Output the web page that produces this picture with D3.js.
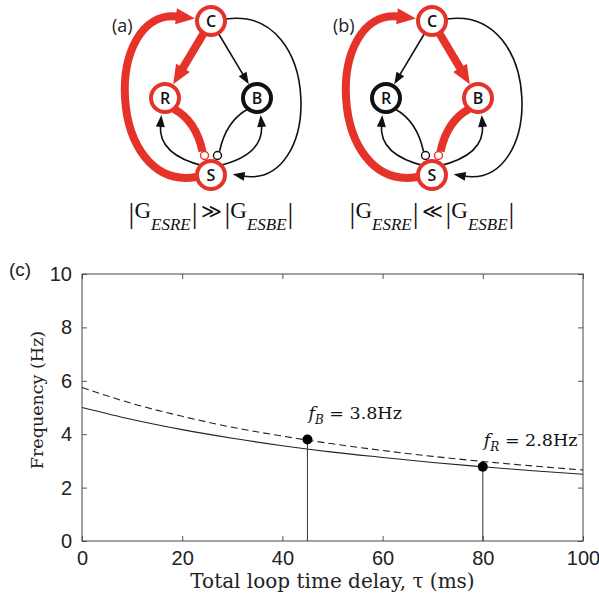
<!DOCTYPE html>
<html>
  <head>
    <title>Loop delay vs frequency</title>
    <meta charset="utf-8" />
    <style>
      body {
        margin: 0;
        background: #fff;
      }
      svg {
        display: block;
      }
      .axis .domain {
        stroke: none;
      }
      .axis .tick line {
        stroke: #555;
      }
      .axis text {
        font-family: "Liberation Sans", Arial, sans-serif;
        font-size: 20px;
        fill: #222;
      }
    </style>
    <script src="https://d3js.org/d3.v7.min.js"></script>
  </head>
  <body>
    <div id="figure"></div>

    <script type="text/javascript">
      // chart data
      var tau = [0, 10, 20, 30, 40, 50, 60, 70, 80, 90, 100];
      var freqSolid = [5.0, 4.55, 4.17, 3.85, 3.57, 3.33, 3.13, 2.94, 2.78, 2.63, 2.5];
      var freqDashed = [5.75, 5.15, 4.67, 4.26, 3.93, 3.64, 3.39, 3.17, 2.98, 2.81, 2.66];
      var peakTau = [45, 80];
      var peakFreq = [3.8, 2.78];
      var peakSub = ["B", "R"];
      var peakText = [" = 3.8Hz", " = 2.8Hz"];
      var xTicks = [0, 20, 40, 60, 80, 100];
      var yTicks = [0, 2, 4, 6, 8, 10];

      // diagram data
      var panelNames = ["(a)", "(b)"];
      var nodeNames = ["C", "R", "B", "S"];
      var redNodes = [["C", "R", "S"], ["C", "B", "S"]];
      var edgeNames = ["SC", "CS", "CR", "CB", "SR", "SB", "RS", "BS"];
      var redEdges = [["SC", "CR", "RS"], ["SC", "CB", "BS"]];
      var inhibitory = ["RS", "BS"];
      var relation = ["\u226B", "\u226A"];

      var RED = "#e5332a";
      var w = 599;
      var h = 602;

      var svg = d3
        .select("#figure")
        .append("svg")
        .attr("width", w)
        .attr("height", h);

      // arrow heads
      var defs = svg.append("defs");
      function marker(id, color, len, half) {
        defs
          .append("marker")
          .attr("id", id)
          .attr("markerUnits", "userSpaceOnUse")
          .attr("viewBox", "-4 -12 28 24")
          .attr("markerWidth", 28)
          .attr("markerHeight", 24)
          .attr("refX", 0)
          .attr("refY", 0)
          .attr("orient", "auto")
          .append("path")
          .attr("d", "M-2," + -half + "L" + len + ",0L-2," + half + "Z")
          .attr("fill", color);
      }
      marker("arrowRed", RED, 17, 8);
      marker("arrowBlack", "#111", 10, 4.5);

      //------------------------------------------------------------
      // Panels (a) and (b): loop diagrams
      //------------------------------------------------------------
      var nodePos = {
        C: [0, 21],
        R: [-46, 98],
        B: [46, 98],
        S: [0, 175]
      };
      var nodeR = 14;

      // straight edge from C, shortened so the arrow tip meets the node
      function straight(to, arrowLen) {
        var a = nodePos.C,
          b = nodePos[to];
        var dx = b[0] - a[0],
          dy = b[1] - a[1],
          L = Math.hypot(dx, dy);
        var ux = dx / L,
          uy = dy / L;
        var back = nodeR + 2 + arrowLen;
        return "M" + a[0] + "," + a[1] + "L" + (b[0] - ux * back) + "," + (b[1] - uy * back);
      }

      function edgePath(id, red) {
        var len = red ? 17 : 10;
        switch (id) {
          case "SC":
            return "M-15,177 C-104,192 -109,8 -33,16.5";
          case "CS":
            return "M15,19 C112,5 112,190 31.5,176";
          case "CR":
            return straight("R", len);
          case "CB":
            return straight("B", len);
          case "SR":
            return "M-7,166 Q-53,155 -50.5,125";
          case "SB":
            return "M7,166 Q53,155 50.5,125";
          case "RS":
            return "M-37,109 Q-15,121 -8.5,151.5";
          case "BS":
            return "M37,109 Q15,121 8.5,151.5";
        }
      }

      var panelX = [211, 432];

      panelNames.forEach(function (name, p) {
        var g = svg.append("g").attr("transform", "translate(" + panelX[p] + ",0)");

        edgeNames.forEach(function (id) {
          var red = redEdges[p].indexOf(id) >= 0;
          var inh = inhibitory.indexOf(id) >= 0;
          var path = g
            .append("path")
            .attr("d", edgePath(id, red))
            .attr("fill", "none")
            .attr("stroke", red ? RED : "#111")
            .attr("stroke-width", red ? 8 : 1.6);
          if (!inh) {
            path.attr("marker-end", red ? "url(#arrowRed)" : "url(#arrowBlack)");
          } else {
            g.append("circle")
              .attr("cx", id == "RS" ? -6.5 : 6.5)
              .attr("cy", 155.5)
              .attr("r", 4)
              .attr("fill", "#fff")
              .attr("stroke", red ? RED : "#111")
              .attr("stroke-width", 1.4);
          }
        });

        nodeNames.forEach(function (n) {
          var isRed = redNodes[p].indexOf(n) >= 0;
          g.append("circle")
            .attr("cx", nodePos[n][0])
            .attr("cy", nodePos[n][1])
            .attr("r", nodeR)
            .attr("fill", "#fff")
            .attr("stroke", isRed ? RED : "#111")
            .attr("stroke-width", 4);
          g.append("text")
            .attr("x", nodePos[n][0])
            .attr("y", nodePos[n][1])
            .attr("dy", "0.36em")
            .attr("text-anchor", "middle")
            .attr("font-family", "'Open Sans', sans-serif")
            .attr("font-weight", 600)
            .attr("font-size", 16)
            .attr("fill", "#111")
            .text(n);
        });

        g.append("text")
          .attr("x", -99)
          .attr("y", 32)
          .attr("font-family", "'Open Sans', sans-serif")
          .attr("font-size", 18)
          .attr("fill", "#222")
          .text(name);

        // |G_ESRE| >> |G_ESBE|  (dy only, so the whole line stays one chunk)
        var t = g
          .append("text")
          .attr("x", 0)
          .attr("y", 223)
          .attr("text-anchor", "middle")
          .attr("font-family", "'Liberation Serif', serif")
          .attr("fill", "#111");
        var parts = [
          ["|", 29, "normal", 0, 0],
          ["G", 23, "normal", -5, 0],
          ["ESRE", 17, "italic", 12, 0],
          ["|", 29, "normal", -7, 1],
          [relation[p], 20, "normal", -5, 3],
          ["|", 29, "normal", 5, 3],
          ["G", 23, "normal", -5, 0],
          ["ESBE", 17, "italic", 12, 0],
          ["|", 29, "normal", -7, 1]
        ];
        parts.forEach(function (q) {
          t.append("tspan")
            .attr("dy", q[3])
            .attr("dx", q[4])
            .attr("font-size", q[1])
            .attr("font-style", q[2])
            .text(q[0]);
        });
      });

      //------------------------------------------------------------
      // Panel (c): frequency vs loop delay
      //------------------------------------------------------------
      var x = d3.scaleLinear().domain([0, 100]).range([82, 583]);
      var y = d3.scaleLinear().domain([0, 10]).range([541, 274]);

      svg
        .append("g")
        .attr("class", "axis")
        .attr("transform", "translate(0," + y(0) + ")")
        .call(
          d3.axisBottom(x).tickValues(xTicks).tickSizeInner(-5).tickSizeOuter(0).tickPadding(10)
        );
      svg
        .append("g")
        .attr("class", "axis")
        .attr("transform", "translate(0," + y(10) + ")")
        .call(d3.axisTop(x).tickValues(xTicks).tickSizeInner(-5).tickSizeOuter(0).tickFormat(""));
      svg
        .append("g")
        .attr("class", "axis")
        .attr("transform", "translate(" + x(0) + ",0)")
        .call(
          d3.axisLeft(y).tickValues(yTicks).tickSizeInner(-5).tickSizeOuter(0).tickPadding(10)
        );
      svg
        .append("g")
        .attr("class", "axis")
        .attr("transform", "translate(" + x(100) + ",0)")
        .call(d3.axisRight(y).tickValues(yTicks).tickSizeInner(-5).tickSizeOuter(0).tickFormat(""));

      // frame
      svg
        .append("rect")
        .attr("x", x(0))
        .attr("y", y(10))
        .attr("width", x(100) - x(0))
        .attr("height", y(0) - y(10))
        .attr("fill", "none")
        .attr("stroke", "#444")
        .attr("stroke-width", 1);

      var line = d3
        .line()
        .x(function (d) {
          return x(d[0]);
        })
        .y(function (d) {
          return y(d[1]);
        })
        .curve(d3.curveMonotoneX);

      svg
        .append("path")
        .datum(d3.zip(tau, freqDashed))
        .attr("d", line)
        .attr("fill", "none")
        .attr("stroke", "#222")
        .attr("stroke-width", 1.1)
        .attr("stroke-dasharray", "7,4");

      svg
        .append("path")
        .datum(d3.zip(tau, freqSolid))
        .attr("d", line)
        .attr("fill", "none")
        .attr("stroke", "#222")
        .attr("stroke-width", 1.1);

      // stems, dots and labels for the two resonances
      peakTau.forEach(function (t, i) {
        svg
          .append("line")
          .attr("x1", x(t))
          .attr("x2", x(t))
          .attr("y1", y(peakFreq[i]))
          .attr("y2", y(0))
          .attr("stroke", "#333")
          .attr("stroke-width", 1);
        svg
          .append("circle")
          .attr("cx", x(t))
          .attr("cy", y(peakFreq[i]))
          .attr("r", 5)
          .attr("fill", "#000");

        var base = y(peakFreq[i]) - 21;
        var lab = svg
          .append("text")
          .attr("x", x(t) + 1)
          .attr("y", base)
          .attr("font-family", "'DejaVu Serif', serif")
          .attr("font-size", 17.5)
          .attr("fill", "#111");
        lab.append("tspan").attr("font-style", "italic").text("f");
        lab
          .append("tspan")
          .attr("dy", 5)
          .attr("font-size", 12)
          .attr("font-style", "italic")
          .text(peakSub[i]);
        lab.append("tspan").attr("dy", -5).text(peakText[i]);
      });

      // axis titles
      svg
        .append("text")
        .attr("x", (x(0) + x(100)) / 2)
        .attr("y", 588)
        .attr("text-anchor", "middle")
        .attr("font-family", "'DejaVu Serif', serif")
        .attr("font-size", 20)
        .attr("fill", "#222")
        .text("Total loop time delay, \u03C4 (ms)");

      svg
        .append("text")
        .attr("transform", "translate(43,400)rotate(-90)")
        .attr("text-anchor", "middle")
        .attr("font-family", "'DejaVu Serif', serif")
        .attr("font-size", 17.5)
        .attr("fill", "#222")
        .text("Frequency (Hz)");

      svg
        .append("text")
        .attr("x", 9)
        .attr("y", 276)
        .attr("font-family", "'Liberation Sans', Arial, sans-serif")
        .attr("font-size", 19)
        .attr("fill", "#222")
        .text("(c)");
    </script>
  </body>
</html>
